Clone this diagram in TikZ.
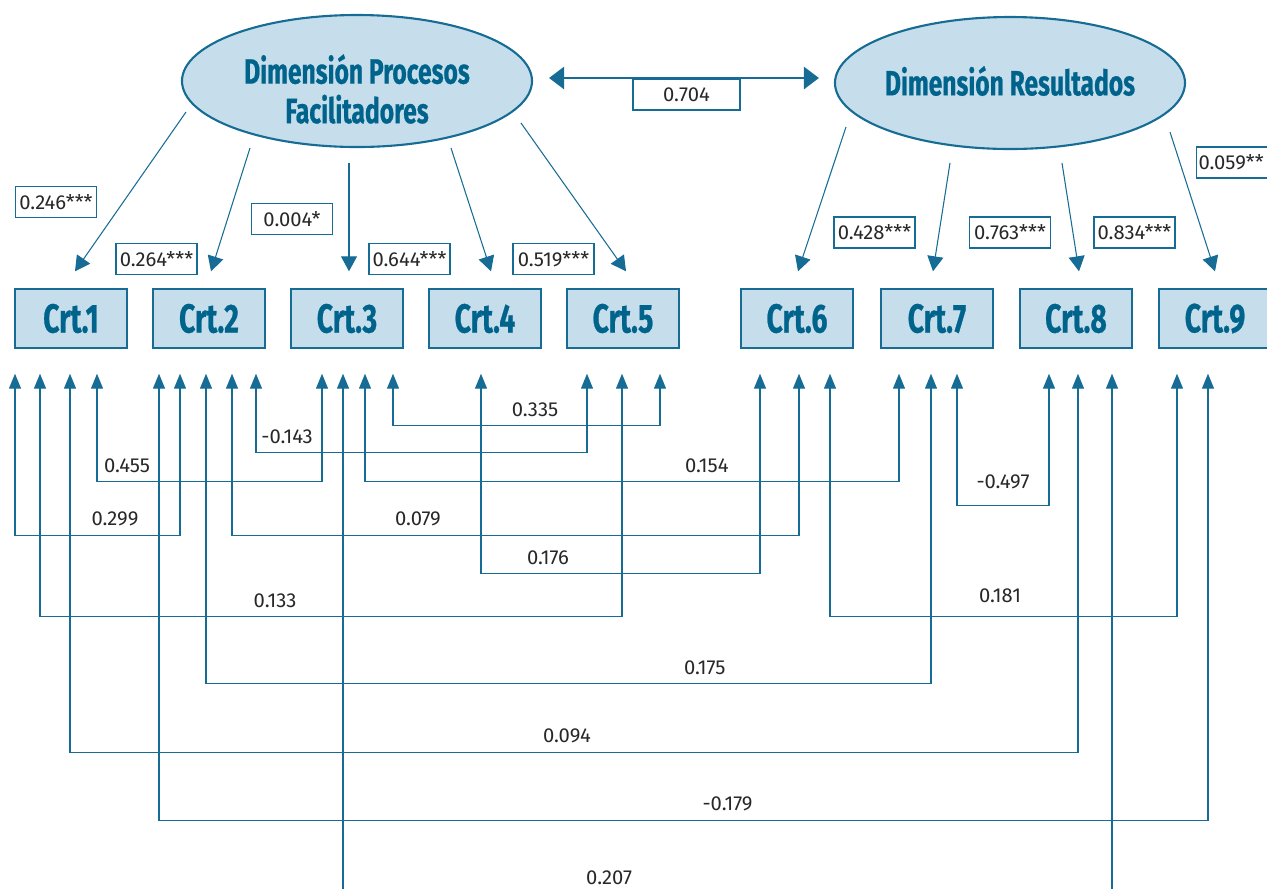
\documentclass[tikz,border=0pt]{standalone}
\usepackage{fontspec}
\setmainfont{Fira Sans}
\newfontfamily\dimfont{Fira Sans}[FakeStretch=0.7, BoldFeatures={FakeBold=0.6}]
\usepackage{tikz}
\usetikzlibrary{arrows.meta, positioning, calc, shapes.geometric}
\definecolor{semdark}{RGB}{0, 99, 140}
\definecolor{semline}{RGB}{22, 108, 148}
\definecolor{semfill}{RGB}{198, 222, 235}
\definecolor{textgray}{RGB}{40, 40, 40}

\begin{document}
\begin{tikzpicture}[x=0.2mm, y=-0.2mm,
    latent/.style={ellipse, draw=semline, line width=1.2pt, fill=semfill,
        minimum width=70mm, minimum height=26.4mm, inner sep=0pt},
    dimtext/.style={align=center, inner sep=0pt,
        text=semdark, font=\dimfont\bfseries\fontsize{20}{22.5}\selectfont},
    crtbox/.style={rectangle, draw=semline, line width=0.8pt, fill=semfill,
        minimum width=22.4mm, minimum height=11.8mm,
        text=semdark, font=\dimfont\bfseries\fontsize{23}{26}\selectfont},
    coefbox/.style={rectangle, draw=semline, line width=0.6pt, fill=white,
        minimum width=16.2mm, minimum height=6.2mm, inner sep=1pt,
        text=textgray, font=\fontsize{11.5}{13}\selectfont},
    coeflbl/.style={above=4pt, inner sep=1pt, text=textgray, font=\fontsize{11.5}{13}\selectfont},
    load/.style={draw=semline, line width=0.6pt, -{Triangle[length=3mm, width=3.2mm]}},
    corr/.style={draw=semline, line width=0.7pt,
        {Triangle[length=3mm, width=2.4mm]}-{Triangle[length=3mm, width=2.4mm]}},
    assoc/.style={draw=semline, line width=1.6pt,
        {Triangle[length=3mm, width=4.4mm]}-{Triangle[length=3mm, width=4.4mm]}}
]
\useasboundingbox (0,0) rectangle (1267,888);

\node[latent] (pf) at (357,81) {};
\node[dimtext] (pft) at (357,89) {Dimensión Procesos\\Facilitadores};
\node[latent] (dr) at (1010,83) {};
\node[dimtext] (drt) at (1010,81) {Dimensión Resultados};

\foreach \i/\x in {1/71, 2/209, 3/347, 4/485, 5/623, 6/797, 7/937, 8/1076, 9/1215}
    \node[crtbox] (c\i) at (\x,318.5) {Crt.\i};

\draw[assoc] ($(pf.east)+(16,-3)$) -- ($(dr.west)+(-15,-5)$);
\node[coefbox, minimum width=21.4mm] (r12) at (686.5,94.5) {0.704};

% cargas
\draw[load] ($(pf.center)+(-171,31)$) -- ($(c1.north)+(4,-17)$);
\draw[load] ($(pf.center)+(-107,67)$) -- ($(c2.north)+(2,-17)$);
\draw[load] ($(pf.center)+(-8,82)$) -- ($(c3.north)+(2,-17)$);
\draw[load] ($(pf.center)+(94,67)$) -- ($(c4.north)+(6,-17)$);
\draw[load] ($(pf.center)+(164,42)$) -- ($(c5.north)+(3,-17)$);
\draw[load] ($(dr.center)+(-164,44)$) -- ($(c6.north)+(1,-17)$);
\draw[load] ($(dr.center)+(-60,80)$) -- ($(c7.north)+(-4,-17)$);
\draw[load] ($(dr.center)+(52,80)$) -- ($(c8.north)+(3,-17)$);
\draw[load] ($(dr.center)+(160,49)$) -- ($(c9.north)+(0,-17)$);

\node[coefbox] (l1) at (56,202) {0.246***};
\node[coefbox] (l2) at (156.5,259) {0.264***};
\node[coefbox] (l3) at (292,219) {0.004*};
\node[coefbox] (l4) at (409.5,259) {0.644***};
\node[coefbox] (l5) at (553.5,259) {0.519***};
\node[coefbox] (l6) at (874.5,232.5) {0.428***};
\node[coefbox] (l7) at (1010,232.5) {0.763***};
\node[coefbox] (l8) at (1134.5,232.5) {0.834***};
\node[coefbox, anchor=west, text width=15.4mm, align=left] (l9) at (1196,162.5) {0.059**};

% covarianzas
\draw[corr] ($(c3.south)+(46,25)$) -- ++(0,52) -| node[coeflbl, pos=0.266] {0.335} ($(c5.south)+(37,25)$);
\draw[corr] ($(c2.south)+(47,25)$) -- ++(0,79) -| node[coeflbl, pos=0.047] {-0.143} ($(c5.south)+(-36,25)$);
\draw[corr] ($(c1.south)+(26,25)$) -- ++(0,108) -| node[coeflbl, pos=0.067] {0.455} ($(c3.south)+(-25,25)$);
\draw[corr] ($(c3.south)+(18,25)$) -- ++(0,108) -| node[coeflbl, pos=0.32] {0.154} ($(c7.south)+(-38,25)$);
\draw[corr] ($(c7.south)+(20,25)$) -- ++(0,132) -| node[coeflbl, pos=0.25, above=8pt] {-0.497} ($(c8.south)+(-27,25)$);
\draw[corr] ($(c1.south)+(-56,25)$) -- ++(0,162) -| node[coeflbl, pos=0.303] {0.299} ($(c2.south)+(-29,25)$);
\draw[corr] ($(c2.south)+(23,25)$) -- ++(0,162) -| node[coeflbl, pos=0.164] {0.079} ($(c6.south)+(2,25)$);
\draw[corr] ($(c4.south)+(-4,25)$) -- ++(0,200) -| node[coeflbl, pos=0.12] {0.176} ($(c6.south)+(-37,25)$);
\draw[corr] ($(c1.south)+(-31,25)$) -- ++(0,243) -| node[coeflbl, pos=0.202] {0.133} ($(c5.south)+(-1,25)$);
\draw[corr] ($(c6.south)+(33,25)$) -- ++(0,243) -| node[coeflbl, pos=0.245, above=6.5pt] {0.181} ($(c9.south)+(-38,25)$);
\draw[corr] ($(c2.south)+(-3,25)$) -- ++(0,310) -| node[coeflbl, pos=0.344] {0.175} ($(c7.south)+(-6,25)$);
\draw[corr] ($(c1.south)+(-1,25)$) -- ++(0,379) -| node[coeflbl, pos=0.2465] {0.094} ($(c8.south)+(2,25)$);
\draw[corr] ($(c2.south)+(-50,25)$) -- ++(0,447) -| node[coeflbl, pos=0.271] {-0.179} ($(c9.south)+(-7,25)$);
\draw[corr] ($(c3.south)+(-4,25)$) -- ++(0,520) -| node[coeflbl, pos=0.173] {0.207} ($(c8.south)+(36,25)$);
\end{tikzpicture}
\end{document}
